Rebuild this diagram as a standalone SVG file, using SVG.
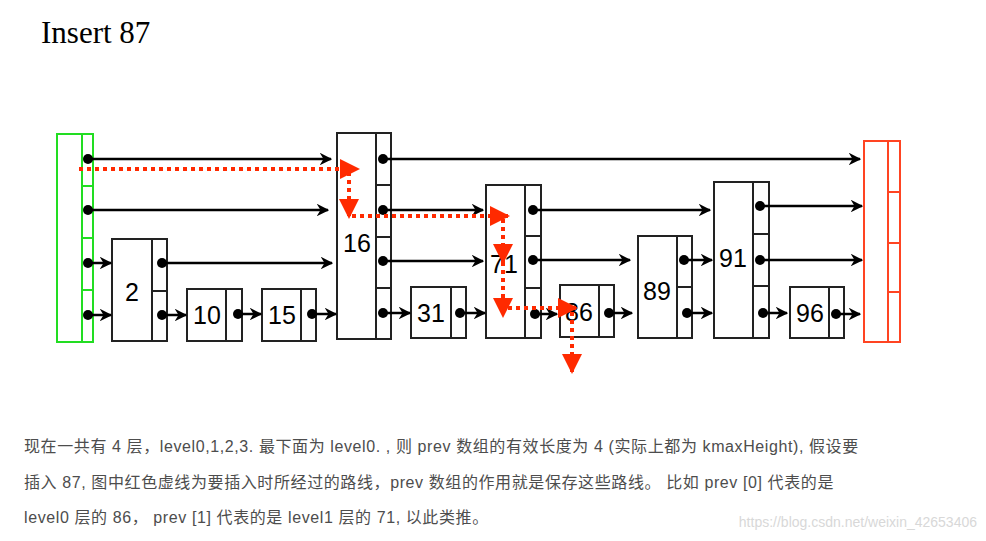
<svg xmlns="http://www.w3.org/2000/svg" width="986" height="541" viewBox="0 0 986 541">
<style>
.n{fill:#fff;stroke:#222;stroke-width:2}
.l{fill:none;stroke:#222;stroke-width:2}
.t{font-family:"Liberation Sans",sans-serif;font-size:25px;fill:#000;text-anchor:middle}
.a{stroke:#000;stroke-width:2.5;fill:none;marker-end:url(#ah)}
.r{stroke:#ff2a00;stroke-width:4;stroke-dasharray:4 4;fill:none;marker-end:url(#rh)}
.p{font-family:"Liberation Sans","Noto Sans CJK SC",sans-serif;font-size:16px;fill:#4d4d4d;letter-spacing:0.6px}
</style>
<defs>
<marker id="ah" viewBox="0 0 10 10" refX="9" refY="5" markerWidth="5" markerHeight="5" orient="auto" markerUnits="strokeWidth"><path d="M0,0 L10,5 L0,10 L3,5 z" fill="#000"/></marker>
<marker id="rh" viewBox="0 0 10 10" refX="9" refY="5" markerWidth="5" markerHeight="5" orient="auto" markerUnits="strokeWidth"><path d="M0,0 L10,5 L0,10 z" fill="#ff2a00"/></marker>
<circle id="d" r="5" fill="#000"/>
</defs>
<rect width="986" height="541" fill="#fff"/>
<text x="41" y="43" font-family="Liberation Serif,serif" font-size="31">Insert 87</text>
<g id="head"><rect x="57" y="134" width="36" height="208" fill="none" stroke="#22dd22" stroke-width="2"/><path d="M82 134V342M82 186H93M82 238H93M82 290H93" stroke="#22dd22" stroke-width="2"/></g>
<g id="tail"><rect x="864" y="141" width="36" height="201" fill="none" stroke="#ff4422" stroke-width="2"/><path d="M888 141V342M888 192H900M888 243H900M888 292H900" stroke="#ff4422" stroke-width="2"/></g>
<g id="n2"><rect class="n" x="112" y="239" width="55" height="102"/><path class="l" d="M152 239V341M152 291H167"/><text class="t" x="132" y="301">2</text></g>
<g id="n10"><rect class="n" x="187" y="289" width="55" height="52"/><path class="l" d="M226 289V341"/><text class="t" x="207" y="324">10</text></g>
<g id="n15"><rect class="n" x="262" y="289" width="54" height="52"/><path class="l" d="M301 289V341"/><text class="t" x="282" y="324">15</text></g>
<g id="n16"><rect class="n" x="337" y="133" width="54" height="206"/><path class="l" d="M376 133V339M376 185H391M376 237H391M376 288H391"/><text class="t" x="357" y="252">16</text></g>
<g id="n31"><rect class="n" x="411" y="287" width="55" height="51"/><path class="l" d="M451 287V338"/><text class="t" x="431" y="322">31</text></g>
<g id="n71"><rect class="n" x="486" y="185" width="55" height="153"/><path class="l" d="M525 185V338M525 236H541M525 288H541"/><text class="t" x="504" y="273">71</text></g>
<g id="n86"><rect class="n" x="560" y="285" width="54" height="52"/><path class="l" d="M599 285V337"/><text class="t" x="579" y="321">86</text></g>
<g id="n89"><rect class="n" x="638" y="236" width="54" height="102"/><path class="l" d="M677 236V338M677 287H692"/><text class="t" x="657" y="300">89</text></g>
<g id="n91"><rect class="n" x="714" y="182" width="55" height="156"/><path class="l" d="M753 182V338M753 234H769M753 286H769"/><text class="t" x="733" y="267">91</text></g>
<g id="n96"><rect class="n" x="790" y="287" width="54" height="51"/><path class="l" d="M829 287V338"/><text class="t" x="810" y="322">96</text></g>
<g id="connectors">
<use href="#d" x="88" y="159"/><use href="#d" x="88" y="210"/><use href="#d" x="88" y="263"/><use href="#d" x="88" y="315"/>
<use href="#d" x="162" y="263"/><use href="#d" x="162" y="315"/><use href="#d" x="238" y="314"/><use href="#d" x="312" y="314"/>
<use href="#d" x="383" y="159"/><use href="#d" x="383" y="210"/><use href="#d" x="383" y="261"/><use href="#d" x="383" y="313"/>
<use href="#d" x="460" y="313"/><use href="#d" x="533" y="210"/><use href="#d" x="533" y="260"/><use href="#d" x="535" y="314"/>
<use href="#d" x="609" y="313"/><use href="#d" x="684" y="260"/><use href="#d" x="687" y="313"/>
<use href="#d" x="760" y="206"/><use href="#d" x="760" y="260"/><use href="#d" x="763" y="313"/><use href="#d" x="836" y="314"/>
<path class="a" d="M88 159H331"/><path class="a" d="M88 210H328"/><path class="a" d="M88 263H111"/><path class="a" d="M162 263H332"/>
<path class="a" d="M88 315H111"/><path class="a" d="M162 315H186"/><path class="a" d="M238 314H261"/><path class="a" d="M312 314H336"/>
<path class="a" d="M383 159H860"/><path class="a" d="M383 210H483"/><path class="a" d="M383 261H483"/><path class="a" d="M383 313H410"/>
<path class="a" d="M460 313H485"/><path class="a" d="M533 210H710"/><path class="a" d="M533 260H630"/><path class="a" d="M535 314H557"/>
<path class="a" d="M609 313H632"/><path class="a" d="M684 260H712"/><path class="a" d="M687 313H712"/>
<path class="a" d="M760 206H862"/><path class="a" d="M760 260H862"/><path class="a" d="M763 313H787"/><path class="a" d="M836 314H860"/>
<path class="r" d="M79 169H358"/><path class="r" d="M349 172V217"/><path class="r" d="M352 216H508"/><path class="r" d="M503 219V262"/><path class="r" d="M503 262V316"/><path class="r" d="M508 308H576"/><path class="r" d="M572 312V372"/>
</g>
<text class="p" x="24" y="452">现在一共有 4 层，level0,1,2,3. 最下面为 level0. , 则 prev 数组的有效长度为 4 (实际上都为 kmaxHeight), 假设要</text>
<text class="p" x="24" y="488">插入 87, 图中红色虚线为要插入时所经过的路线，prev 数组的作用就是保存这些路线。 比如 prev [0] 代表的是</text>
<text class="p" x="24" y="523">level0 层的 86， prev [1] 代表的是 level1 层的 71, 以此类推。</text>
<text x="977" y="527" text-anchor="end" font-family="Liberation Sans,sans-serif" font-size="14" fill="#d8d8d8">https://blog.csdn.net/weixin_42653406</text>
</svg>
